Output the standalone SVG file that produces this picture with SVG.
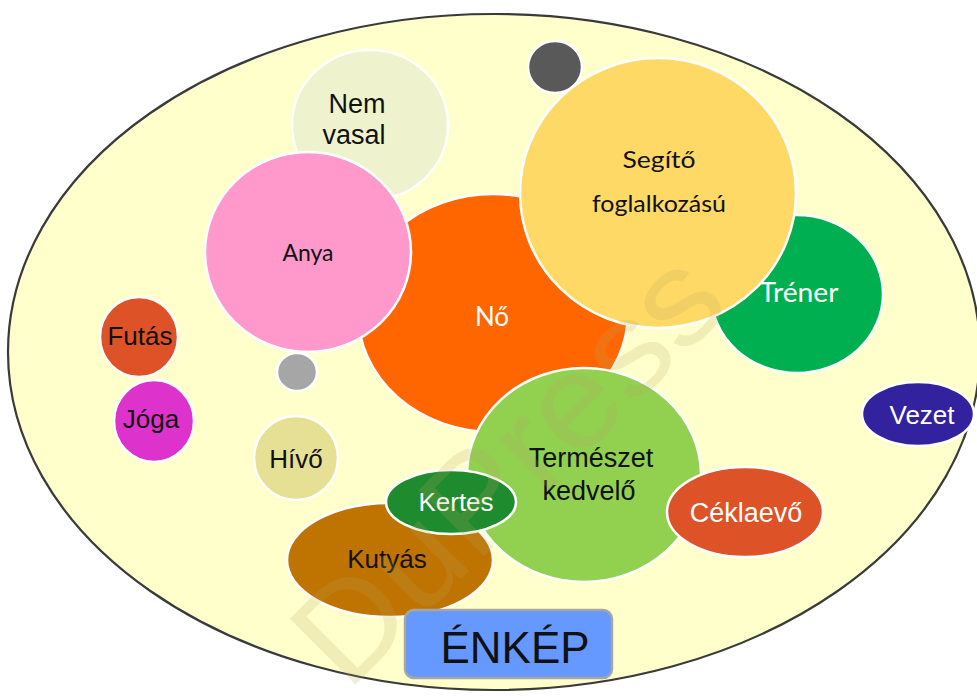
<svg xmlns="http://www.w3.org/2000/svg" width="977" height="697" viewBox="0 0 977 697">
  <style>
    .bub { stroke: #ffffff; stroke-width: 2.5; }
    .arial { font-family: "Liberation Sans", Arial, sans-serif; text-anchor: middle; }
    .soft { font-family: Lato, "Open Sans", "Liberation Sans", sans-serif; text-anchor: middle; }
    .dark { fill: #111111; }
    .light { fill: #ffffff; }
  </style>

  <rect x="0" y="0" width="977" height="697" fill="#ffffff"/>

  <!-- outer self-image frame -->
  <g id="frame">
    <ellipse cx="494" cy="352" rx="486" ry="338" fill="#FFFFCC" stroke="#3a3a3a" stroke-width="2.2"/>
  </g>

  <g id="nem-vasal">
    <ellipse class="bub" cx="370" cy="125" rx="78" ry="75" fill="#EEF3CE"/>
    <text class="arial dark" x="357" y="113" font-size="27">Nem</text>
    <text class="arial dark" x="354" y="144" font-size="27">vasal</text>
  </g>

  <g id="dot-dark">
    <ellipse class="bub" cx="555" cy="67" rx="27" ry="26" fill="#595959"/>
  </g>

  <g id="no">
    <ellipse class="bub" cx="493" cy="313" rx="135" ry="119" fill="#FF6600"/>
    <text class="soft light" x="492" y="326" font-size="26">Nő</text>
  </g>

  <g id="anya">
    <ellipse class="bub" cx="308" cy="252" rx="103" ry="100" fill="#FF99CC"/>
    <text class="soft dark" x="308" y="261" font-size="23">Anya</text>
  </g>

  <g id="trener">
    <ellipse class="bub" cx="797" cy="294" rx="86" ry="79" fill="#00B050"/>
    <text class="soft light" x="799" y="302" font-size="27" textLength="79" lengthAdjust="spacingAndGlyphs">Tréner</text>
  </g>

  <g id="segito">
    <ellipse class="bub" cx="658" cy="193" rx="138" ry="135" fill="#FFD966"/>
    <text class="soft dark" x="659" y="168" font-size="23" textLength="73" lengthAdjust="spacingAndGlyphs">Segítő</text>
    <text class="soft dark" x="659" y="212" font-size="23" textLength="134" lengthAdjust="spacingAndGlyphs">foglalkozású</text>
  </g>

  <g id="dot-grey">
    <ellipse class="bub" cx="297" cy="372" rx="20" ry="19" fill="#A6A6A6"/>
  </g>

  <g id="futas">
    <ellipse class="bub" cx="139" cy="337" rx="39" ry="40" fill="#DE5227"/>
    <text class="arial dark" x="140" y="345" font-size="26">Futás</text>
  </g>

  <g id="joga">
    <ellipse class="bub" cx="154" cy="421" rx="40" ry="41" fill="#DD33CC"/>
    <text class="arial dark" x="151" y="428" font-size="26">Jóga</text>
  </g>

  <g id="hivo">
    <ellipse class="bub" cx="296" cy="458" rx="42" ry="42" fill="#E6E094"/>
    <text class="arial dark" x="296" y="468" font-size="26">Hívő</text>
  </g>

  <g id="vezet">
    <ellipse class="bub" cx="918" cy="414" rx="56" ry="32" fill="#33229E"/>
    <text class="arial light" x="922" y="424" font-size="26">Vezet</text>
  </g>

  <g id="kutyas">
    <ellipse class="bub" cx="390" cy="560" rx="103" ry="57" fill="#BF7300"/>
    <text class="arial dark" x="387" y="568" font-size="26">Kutyás</text>
  </g>

  <g id="termeszet">
    <ellipse class="bub" cx="584" cy="475" rx="117" ry="107" fill="#92D050"/>
    <text class="arial dark" x="591" y="467" font-size="27">Természet</text>
    <text class="arial dark" x="589" y="500" font-size="27">kedvelő</text>
  </g>

  <g id="ceklaevo">
    <ellipse class="bub" cx="745" cy="512" rx="78" ry="45" fill="#DE5227"/>
    <text class="arial light" x="746" y="522" font-size="27">Céklaevő</text>
  </g>

  <g id="kertes">
    <ellipse class="bub" cx="451" cy="502" rx="65" ry="32" fill="#1E8B2E"/>
    <text class="arial light" x="456" y="511" font-size="26">Kertes</text>
  </g>

  <g id="enkep">
    <rect x="405" y="610" width="207" height="68" rx="9" ry="9" fill="#6699FF" stroke="#A6A6A6" stroke-width="2.5"/>
    <text class="arial dark" x="515" y="663" font-size="44">ÉNKÉP</text>
  </g>

  <!-- publisher mark -->
  <g id="mark" opacity="0.2">
    <text class="arial" x="0" y="0" font-size="135" fill="#B8A860" textLength="545" lengthAdjust="spacingAndGlyphs" transform="translate(540 500) rotate(-45)">DuPress</text>
  </g>
</svg>
